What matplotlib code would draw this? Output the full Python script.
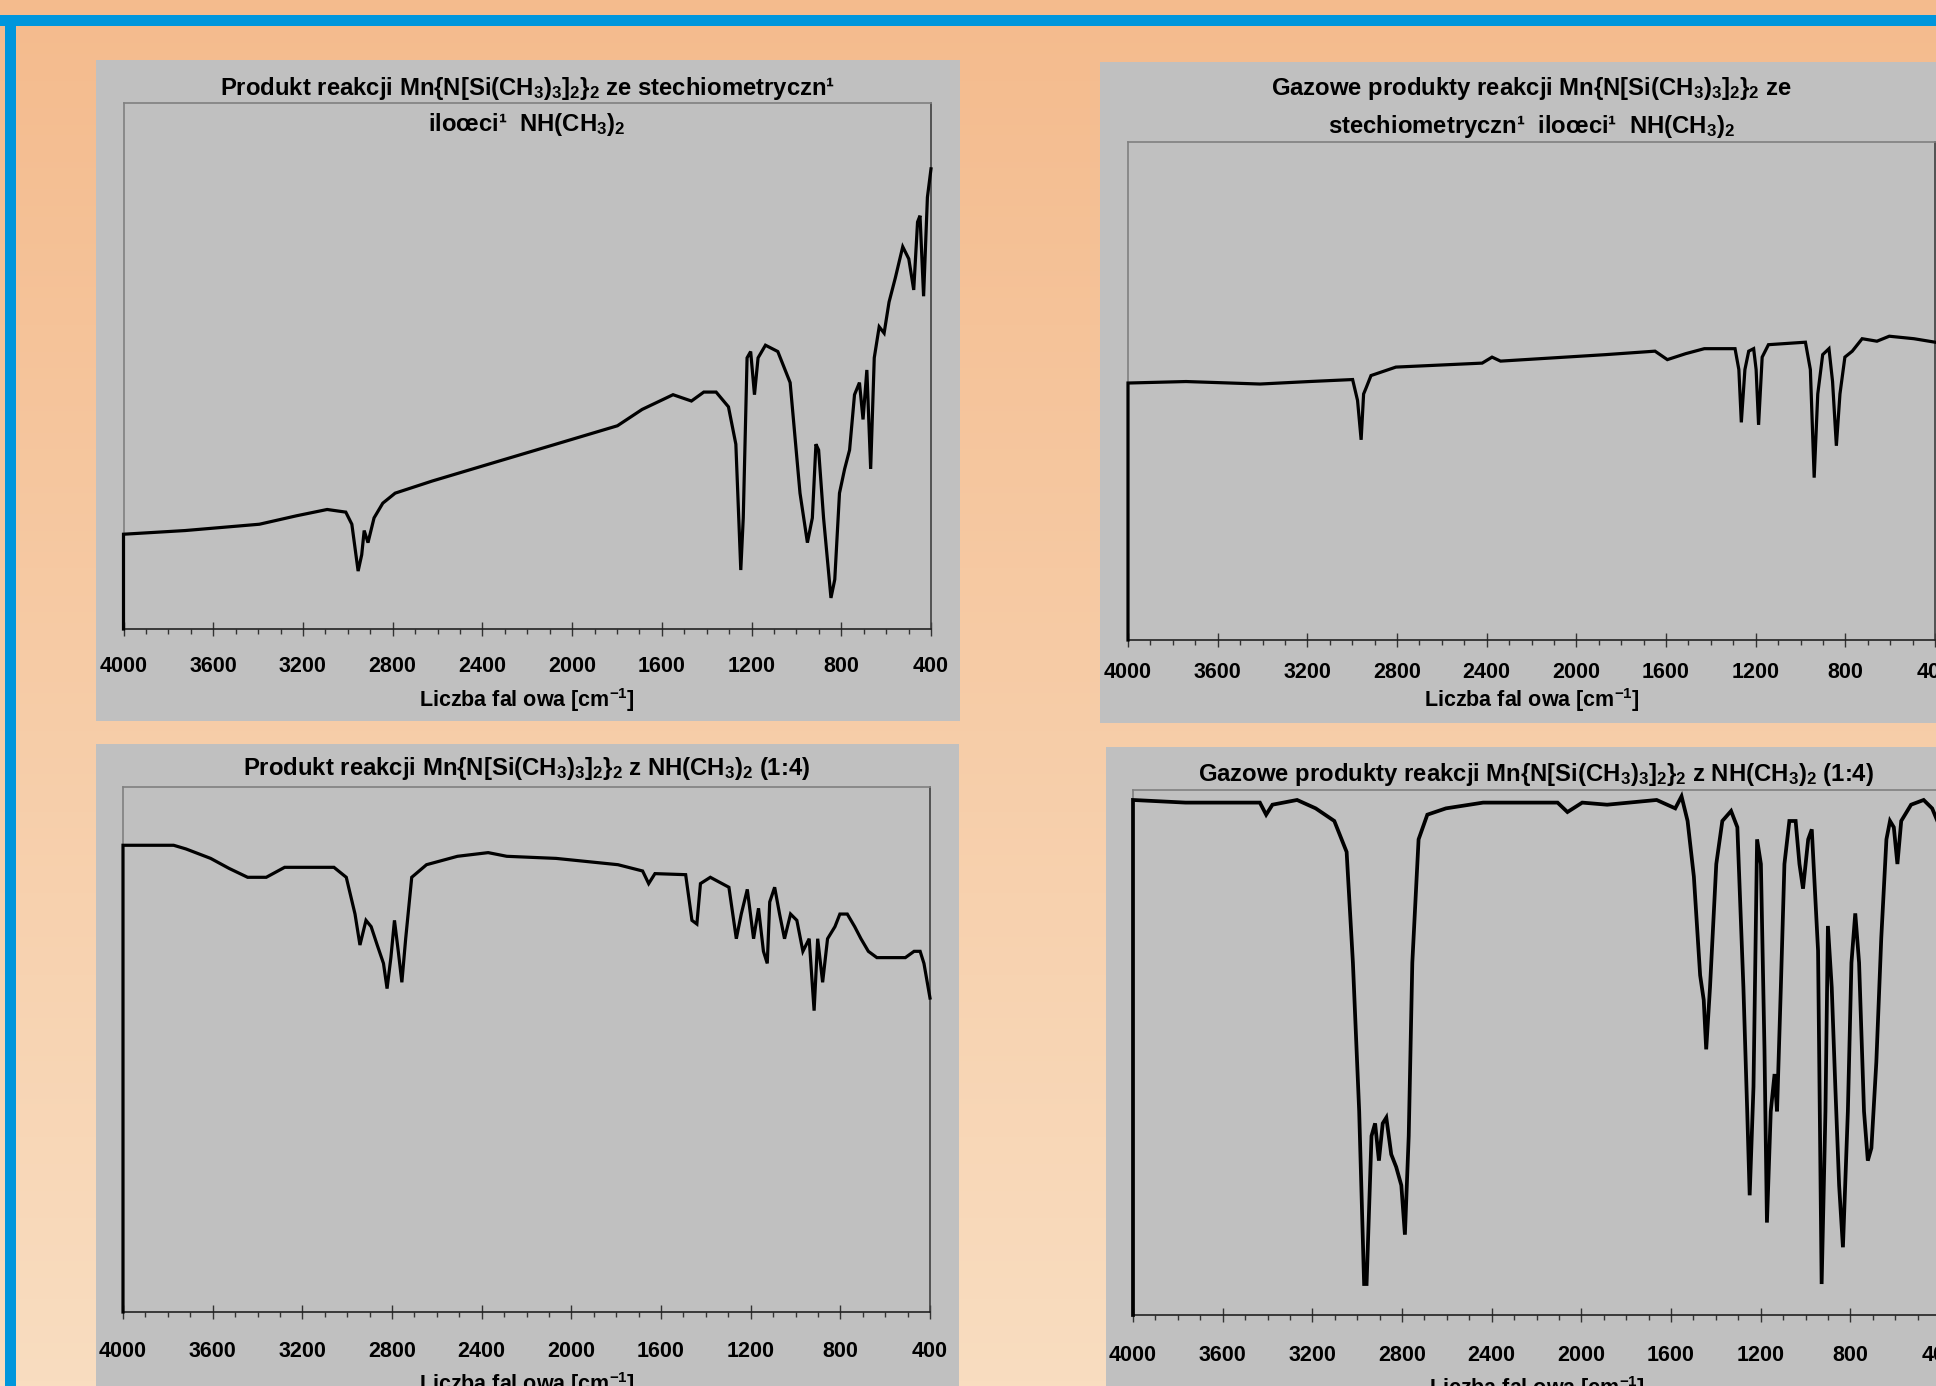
import matplotlib
matplotlib.use("Agg")
import matplotlib.pyplot as plt
import numpy as np
from matplotlib.patches import Rectangle

plt.rcParams['font.family'] = ['Liberation Sans', 'DejaVu Sans']
plt.rcParams['mathtext.default'] = 'regular'

# ---------------- data (wavenumber cm-1, relative transmittance 0-100) ----------------
wn1 = [4000, 4000, 3725, 3394, 3229, 3092, 3009, 2982, 2954, 2938, 2927, 2910, 2883, 2844, 2789,
       2624, 2349, 2073, 1798, 1688, 1550, 1468, 1413, 1358, 1303, 1270, 1248, 1237, 1220, 1204,
       1187, 1171, 1138, 1083, 1028, 984, 951, 929, 913, 901, 879, 846, 829, 808, 785, 763, 741,
       719, 703, 686, 669, 653, 631, 609, 587, 559, 526, 499, 477, 460, 449, 433, 416, 400]
t1 = [0, 18.0, 18.7, 19.9, 21.5, 22.7, 22.2, 19.9, 11.0, 14.1, 18.7, 16.4, 21.1, 23.9, 25.8,
      28.1, 31.6, 35.1, 38.6, 41.7, 44.5, 43.3, 45.0, 45.0, 42.2, 35.1, 11.2, 21.1, 51.5, 52.7,
      44.5, 51.5, 53.9, 52.7, 46.8, 25.8, 16.4, 21.1, 35.1, 34.0, 21.1, 5.9, 9.4, 25.8, 30.4, 34.0, 44.5,
      46.8, 39.8, 49.2, 30.4, 51.5, 57.4, 56.2, 62.1, 66.7, 72.6, 70.3, 64.4, 77.3, 78.5, 63.2, 82.0, 87.4]

wn2 = [4000, 4000, 3741, 3411, 3191, 2998, 2976, 2960, 2949, 2938, 2916, 2805, 2420, 2376, 2338,
       1870, 1649, 1594, 1512, 1429, 1292, 1275, 1264, 1248, 1231, 1209, 1198, 1187, 1171, 1143,
       978, 956, 939, 923, 901, 873, 857, 840, 824, 802, 769, 725, 659, 604, 494, 400]
t2 = [0, 51.6, 51.9, 51.4, 51.9, 52.3, 48.1, 40.2, 49.4, 50.6, 53.1, 54.8, 55.6, 56.8, 56.0,
      57.3, 58.0, 56.3, 57.5, 58.5, 58.5, 54.3, 43.7, 54.3, 58.0, 58.5, 54.3, 43.2, 56.8, 59.3,
      59.8, 54.3, 32.6, 49.4, 57.3, 58.5, 51.9, 39.0, 49.4, 56.8, 58.0, 60.5, 60.0, 61.0, 60.5, 59.8]

wn3 = [4000, 4000, 3774, 3719, 3609, 3527, 3444, 3361, 3279, 3059, 3004, 2965, 2943, 2916, 2893,
       2866, 2838, 2822, 2805, 2789, 2772, 2756, 2739, 2712, 2646, 2508, 2371, 2288, 2068, 1792,
       1682, 1655, 1627, 1490, 1462, 1440, 1424, 1380, 1297, 1264, 1242, 1215, 1187, 1165, 1143,
       1126, 1115, 1093, 1071, 1049, 1022, 994, 967, 939, 917, 901, 879, 857, 824, 802, 769, 736,
       708, 675, 637, 582, 510, 471, 444, 427, 400]
t3 = [0, 88.9, 88.9, 88.2, 86.4, 84.5, 82.8, 82.8, 84.7, 84.7, 82.8, 75.8, 69.9, 74.6, 73.4,
      69.9, 66.4, 61.6, 67.5, 74.6, 68.7, 62.8, 71.1, 82.8, 85.2, 86.8, 87.5, 86.8, 86.4, 85.2,
      84.0, 81.6, 83.5, 83.3, 74.6, 73.9, 81.6, 82.8, 80.9, 71.1, 75.8, 80.5, 71.1, 76.9, 68.7,
      66.4, 78.1, 80.9, 75.8, 71.1, 75.8, 74.6, 68.7, 71.1, 57.4, 71.1, 62.8, 71.1, 73.4, 75.8, 75.8, 73.4,
      71.1, 68.7, 67.5, 67.5, 67.5, 68.7, 68.7, 66.4, 59.8]

wn4 = [4000, 4000, 3766, 3434, 3406, 3378, 3268, 3185, 3102, 3047, 3019, 2991, 2969, 2958, 2936,
       2920, 2903, 2886, 2870, 2848, 2826, 2803, 2787, 2770, 2754, 2726, 2687, 2604, 2438, 2106,
       2062, 1996, 1885, 1664, 1581, 1553, 1526, 1498, 1470, 1454, 1443, 1426, 1398, 1371, 1332,
       1304, 1277, 1260, 1249, 1232, 1216, 1199, 1183, 1172, 1155, 1138, 1127, 1110, 1094, 1072,
       1044, 1027, 1011, 988, 972, 944, 928, 911, 900, 883, 867, 850, 833, 811, 795, 778, 761,
       739, 722, 706, 684, 662, 639, 623, 606, 590, 573, 529, 473, 435, 400]
t4 = [0, 98.1, 97.6, 97.6, 95.3, 97.2, 98.1, 96.5, 94.1, 88.2, 67.1, 38.8, 5.9, 5.9, 34.1,
      36.5, 29.4, 36.5, 37.6, 30.6, 28.2, 24.7, 15.3, 34.1, 67.1, 90.6, 95.3, 96.5, 97.6, 97.6,
      95.8, 97.6, 97.2, 98.1, 96.5, 98.8, 94.1, 83.5, 64.7, 60.0, 50.6, 62.4, 85.9, 94.1, 96.0,
      92.9, 62.4, 38.8, 22.8, 43.5, 90.6, 85.9, 50.6, 17.6, 38.8, 45.9, 38.8, 62.4, 85.9, 94.1,
      94.1, 85.9, 81.2, 90.6, 92.5, 69.4, 5.9, 38.8, 74.1, 62.4, 43.5, 24.7, 12.9, 38.8, 67.1, 76.5, 67.1,
      38.8, 29.4, 31.8, 48.2, 71.8, 90.6, 94.1, 92.9, 85.9, 94.1, 97.2, 98.1, 96.5, 92.9]

major_ticks = [4000, 3600, 3200, 2800, 2400, 2000, 1600, 1200, 800, 400]
minor_ticks = list(range(4000, 399, -100))
xlabel = "Liczba fal owa [cm$^{-1}$]"

titles = [
    ["Produkt reakcji Mn{N[Si(CH$_3$)$_3$]$_2$}$_2$ ze stechiometryczn\u00b9",
     "ilo\u0153ci\u00b9  NH(CH$_3$)$_2$"],
    ["Gazowe produkty reakcji Mn{N[Si(CH$_3$)$_3$]$_2$}$_2$ ze",
     "stechiometryczn\u00b9  ilo\u0153ci\u00b9  NH(CH$_3$)$_2$"],
    ["Produkt reakcji Mn{N[Si(CH$_3$)$_3$]$_2$}$_2$ z NH(CH$_3$)$_2$ (1:4)"],
    ["Gazowe produkty reakcji Mn{N[Si(CH$_3$)$_3$]$_2$}$_2$ z NH(CH$_3$)$_2$ (1:4)"],
]

# ---------------- layout ----------------
W, H = 1936, 1386
fig = plt.figure(figsize=(W / 100, H / 100), dpi=100)

def fx(x):
    return x / W

def fy(y):
    return 1 - y / H

# background gradient
bg = fig.add_axes([0, 0, 1, 1], zorder=-10)
grad = np.linspace(0, 1, 256)[:, None]
c_top = np.array([244, 187, 141]) / 255
c_bot = np.array([249, 221, 192]) / 255
img = c_top[None, None, :] * (1 - grad[:, :, None]) + c_bot[None, None, :] * grad[:, :, None]
bg.imshow(img, aspect='auto', extent=[0, 1, 0, 1], origin='upper')
bg.set_xlim(0, 1)
bg.set_ylim(0, 1)
bg.axis('off')

blue = '#0096DC'
fig.patches.append(Rectangle((fx(0), fy(26)), 1, 11 / H, transform=fig.transFigure,
                             facecolor=blue, edgecolor='none', zorder=-5))
fig.patches.append(Rectangle((fx(5), 0), 11 / W, fy(15), transform=fig.transFigure,
                             facecolor=blue, edgecolor='none', zorder=-5))

panels = [(96, 60, 960, 721), (1100, 62, 1940, 723), (96, 744, 959, 1390), (1106, 747, 1940, 1390)]
for (x0, y0, x1, y1) in panels:
    fig.patches.append(Rectangle((fx(x0), fy(y1)), (x1 - x0) / W, (y1 - y0) / H,
                                 transform=fig.transFigure, facecolor='#C0C0C0',
                                 edgecolor='none', zorder=-4))

plots = [(123.5, 102.5, 931, 629), (1128, 142, 1935, 640), (123, 787, 930, 1312), (1133, 790, 1940, 1315)]
datas = [(wn1, t1), (wn2, t2), (wn3, t3), (wn4, t4)]
lws = [2.3, 2.3, 2.3, 2.7]
pads = [14.7, 11.1, 15.6, 16.4]
title_y = [[88, 125], [88, 126], [769], [774]]
xlab_y = [700, 700, 1384, 1388]

for i, ((x0, y0, x1, y1), (wn, tt)) in enumerate(zip(plots, datas)):
    ax = fig.add_axes([fx(x0), fy(y1), (x1 - x0) / W, (y1 - y0) / H], zorder=1)
    ax.set_facecolor('#C0C0C0')
    ax.plot(wn, tt, color='black', lw=lws[i], solid_joinstyle='miter', clip_on=False, zorder=3)
    ax.set_xlim(4000, 400)
    ax.set_ylim(0, 100)
    ax.set_yticks([])
    ax.set_xticks(major_ticks)
    ax.set_xticks(minor_ticks, minor=True)
    ax.set_xticklabels([str(v) for v in major_ticks], fontsize=15.5, fontweight='bold')
    ax.tick_params(axis='x', which='major', direction='inout', length=10, width=1.0,
                   color='#333333', pad=pads[i])
    ax.tick_params(axis='x', which='minor', direction='out', length=3.6, width=1.0,
                   color='#333333')
    for s in ['top', 'left']:
        ax.spines[s].set_color('#808080')
        ax.spines[s].set_linewidth(1.2)
    ax.spines['right'].set_color('#404040')
    ax.spines['right'].set_linewidth(1.2)
    ax.spines['bottom'].set_color('#222222')
    ax.spines['bottom'].set_linewidth(1.2)

    cx = (x0 + x1) / 2
    for line, ty in zip(titles[i], title_y[i]):
        fig.text(fx(cx), fy(ty), line, ha='center', va='center', fontsize=17.2,
                 fontweight='bold', color='black', zorder=5)
    fig.text(fx(cx), fy(xlab_y[i]), xlabel, ha='center', va='center', fontsize=15.5,
             fontweight='bold', color='black', zorder=5)

fig.savefig('out.png', dpi=100)
